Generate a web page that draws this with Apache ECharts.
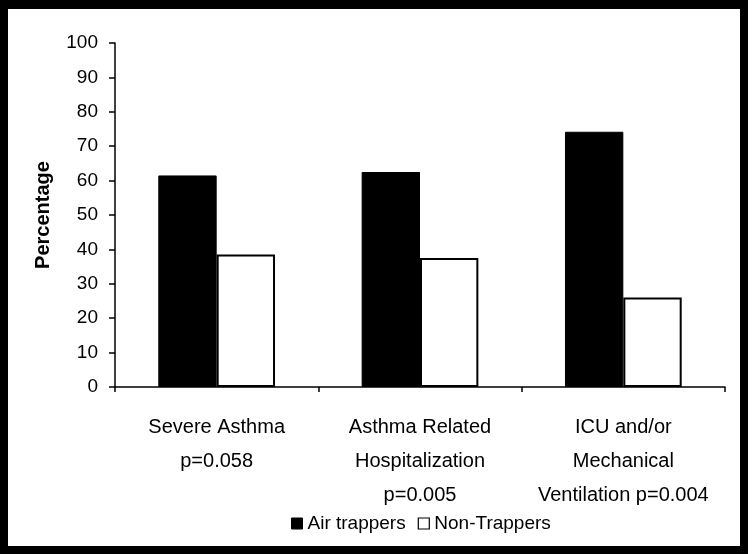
<!DOCTYPE html>
<html>
<head>
<meta charset="utf-8">
<style>
html,body{margin:0;padding:0;background:#fff;}
#chart{width:752px;height:554px;}
</style>
<script src="https://cdn.jsdelivr.net/npm/echarts@6/dist/echarts.min.js"></script>
</head>
<body>
<div id="chart"></div>
<script>
var categories = ['Severe Asthma\np=0.058', 'Asthma Related\nHospitalization\np=0.005', 'ICU and/or\nMechanical\nVentilation p=0.004'];
var airTrappers = [61.5, 62.5, 74.2];
var nonTrappers = [38.5, 37.5, 26.0];
var seriesNames = ['Air trappers', 'Non-Trappers'];
var yAxisTitle = 'Percentage';

var FONT = '"Liberation Sans", Arial, sans-serif';
var chart = echarts.init(document.getElementById('chart'), null, {renderer: 'canvas'});
chart.setOption({
  animation: false,
  backgroundColor: '#fff',
  textStyle: {fontFamily: FONT, color: '#000'},
  grid: {left: 115, right: 27, top: 43, bottom: 167, containLabel: false},
  legend: {
    left: 286, top: 509,
    itemWidth: 11, itemHeight: 11, itemGap: 12,
    icon: 'rect',
    textStyle: {fontFamily: FONT, fontSize: 19, color: '#000'},
    data: [
      {name: seriesNames[0], itemStyle: {color: '#000', borderColor: '#000', borderWidth: 1}},
      {name: seriesNames[1], itemStyle: {color: '#fff', borderColor: '#000', borderWidth: 1.2}}
    ]
  },
  xAxis: {
    type: 'category',
    data: categories,
    axisLine: {lineStyle: {color: '#000', width: 1.5}},
    axisTick: {show: true, length: 5, lineStyle: {color: '#000', width: 1.5}},
    axisLabel: {fontFamily: FONT, fontSize: 20, color: '#000', lineHeight: 34, margin: 23, interval: 0}
  },
  yAxis: {
    type: 'value', min: 0, max: 100, interval: 10,
    name: yAxisTitle, nameLocation: 'middle', nameGap: 62, nameRotate: 90,
    nameTextStyle: {fontFamily: FONT, fontSize: 20, fontWeight: 'bold', color: '#000'},
    axisLine: {show: true, lineStyle: {color: '#000', width: 1.5}},
    axisTick: {show: true, length: 6, lineStyle: {color: '#000', width: 1.5}},
    axisLabel: {fontFamily: FONT, fontSize: 19, color: '#000', margin: 17},
    splitLine: {show: false}
  },
  series: [
    {name: seriesNames[0], type: 'bar', data: airTrappers, barGap: '0%', barCategoryGap: '42.6%',
     itemStyle: {color: '#000', borderColor: '#000', borderWidth: 1}},
    {name: seriesNames[1], type: 'bar', data: nonTrappers, barGap: '0%', barCategoryGap: '42.6%',
     itemStyle: {color: '#fff', borderColor: '#000', borderWidth: 2}}
  ],
  graphic: [
    {type: 'rect', shape: {x: 0, y: 0, width: 8, height: 554}, style: {fill: '#000'}, silent: true},
    {type: 'rect', shape: {x: 0, y: 0, width: 748, height: 9}, style: {fill: '#000'}, silent: true},
    {type: 'rect', shape: {x: 740, y: 0, width: 8, height: 554}, style: {fill: '#000'}, silent: true},
    {type: 'rect', shape: {x: 0, y: 546, width: 748, height: 8}, style: {fill: '#000'}, silent: true}
  ]
});
</script>
</body>
</html>
